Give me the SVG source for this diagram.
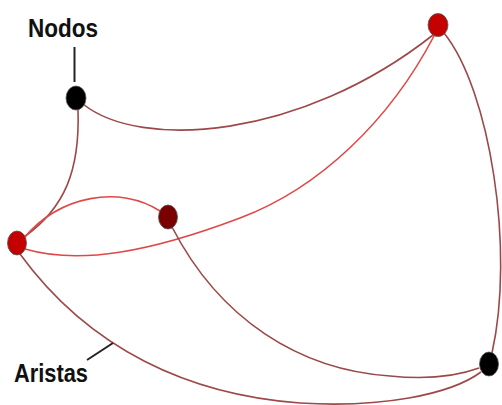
<svg xmlns="http://www.w3.org/2000/svg" width="502" height="405" viewBox="0 0 502 405">
<style>
.e{fill:none;stroke-width:1.6}
.br{stroke:#9c4848}
.rd{stroke:#e04848}
.n{stroke:#555;stroke-width:0.8}
.lbl{font-family:"Liberation Sans",Arial,sans-serif;font-weight:bold;font-size:25px;fill:#111}
.ptr{stroke:#222;stroke-width:2}
</style>
<rect width="502" height="405" fill="#fff"/>
<g id="connectors">
<path class="e br" d="M83,104 C140,150 300,140 433,35"/>
<path class="e br" d="M78,110 C80,170 65,208 24,237"/>
<path class="e rd" d="M24,238 C60,195 120,185 160,211"/>
<path class="e rd" d="M25,249 C80,265 150,252 240,218 C320,188 390,120 434,36"/>
<path class="e br" d="M172,227 C220,320 300,370 390,376 C430,380 460,375 479,368"/>
<path class="e br" d="M20,254 C90,350 190,395 300,403 C380,408 450,395 481,372"/>
<path class="e br" d="M444,33 C490,90 515,250 492,353"/>
</g>
<g id="node-A"><ellipse class="n" cx="76" cy="98" rx="10" ry="12" fill="#000"/></g>
<g id="node-B"><ellipse class="n" cx="438" cy="25" rx="10" ry="11.5" fill="#c40000"/></g>
<g id="node-C"><ellipse class="n" cx="168" cy="217" rx="9.5" ry="12" fill="#7a0000"/></g>
<g id="node-D"><ellipse class="n" cx="17" cy="243" rx="9.5" ry="12" fill="#c40000"/></g>
<g id="node-E"><ellipse class="n" cx="489" cy="364" rx="9.5" ry="12" fill="#000"/></g>
<g id="label-nodos">
<line class="ptr" x1="74.5" y1="47" x2="74.5" y2="82"/>
<text class="lbl" x="28" y="37" textLength="70" lengthAdjust="spacingAndGlyphs">Nodos</text>
</g>
<g id="label-aristas">
<line class="ptr" x1="87" y1="360" x2="113" y2="343"/>
<text class="lbl" x="14" y="382" textLength="74" lengthAdjust="spacingAndGlyphs">Aristas</text>
</g>
</svg>
